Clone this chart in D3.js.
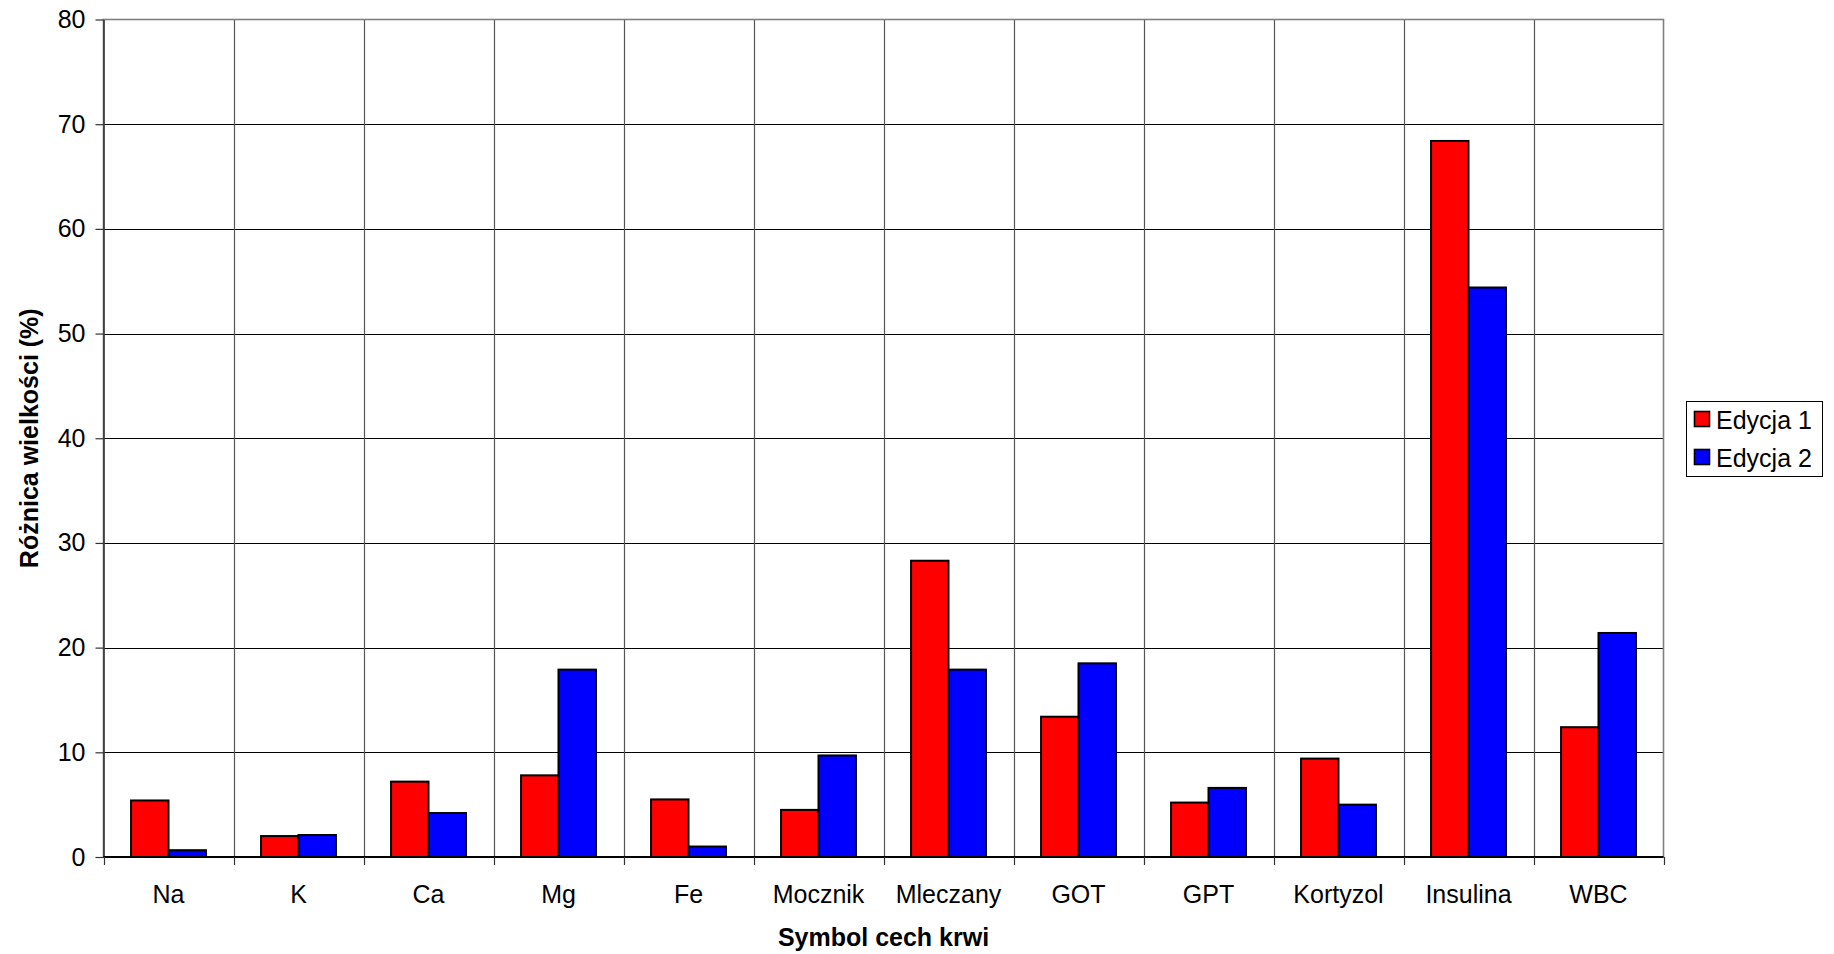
<!DOCTYPE html>
<html>
<head>
<meta charset="utf-8">
<script src="https://cdn.jsdelivr.net/npm/d3@7"></script>
<style>
  html, body { margin: 0; padding: 0; background: #fff; }
  svg { display: block; font-family: "Liberation Sans", Arial, sans-serif; }
</style>
</head>
<body>
<svg id="chart" width="1834" height="954"></svg>
<script>
// Blood parameters and percentage differences for the two editions
const categories = ["Na", "K", "Ca", "Mg", "Fe", "Mocznik", "Mleczany", "GOT", "GPT", "Kortyzol", "Insulina", "WBC"];
const seriesNames = ["Edycja 1", "Edycja 2"];
const edycja1 = [5.4, 2.0, 7.2, 7.8, 5.5, 4.5, 28.3, 13.4, 5.2, 9.4, 68.4, 12.4];
const edycja2 = [0.65, 2.1, 4.2, 17.9, 1.0, 9.7, 17.9, 18.5, 6.6, 5.0, 54.4, 21.4];
const yTicks = [0, 10, 20, 30, 40, 50, 60, 70, 80];
const colors = ["#ff0000", "#0000ff"];

const svg = d3.select("#chart");
const plotLeft = 103.5, plotRight = 1663.5, plotTop = 19.5, plotBottom = 857;

const x = d3.scaleBand().domain(categories).range([plotLeft, plotRight]).padding(0);
const bw = x.bandwidth();
const inner = d3.scaleBand().domain(seriesNames)
  .range([bw * 0.212, bw * 0.788]).padding(0);
const y = d3.scaleLinear().domain([0, 80]).range([plotBottom, plotTop]);

const rows = categories.map((c, i) => ({ cat: c, values: [edycja1[i], edycja2[i]] }));

// horizontal gridlines
svg.append("g").selectAll("line").data(yTicks.filter(t => t > 0 && t < 80)).join("line")
  .attr("x1", plotLeft).attr("x2", plotRight)
  .attr("y1", d => Math.round(y(d)) + 0.5).attr("y2", d => Math.round(y(d)) + 0.5)
  .attr("stroke", "#000").attr("stroke-width", 1);

// vertical gridlines between categories
svg.append("g").selectAll("line").data(categories.slice(1)).join("line")
  .attr("x1", d => Math.round(x(d)) + 0.5).attr("x2", d => Math.round(x(d)) + 0.5)
  .attr("y1", plotTop).attr("y2", plotBottom)
  .attr("stroke", "#555").attr("stroke-width", 1.2);

// plot border
svg.append("rect")
  .attr("x", plotLeft).attr("y", plotTop).attr("width", plotRight - plotLeft).attr("height", plotBottom - plotTop)
  .attr("fill", "none").attr("stroke", "#808080").attr("stroke-width", 1.6);

// bars
const groups = svg.append("g").selectAll("g").data(rows).join("g")
  .attr("transform", d => `translate(${x(d.cat)},0)`);
groups.selectAll("rect")
  .data(d => d.values.map((v, j) => ({ name: seriesNames[j], v, j })))
  .join("rect")
  .attr("x", d => inner(d.name))
  .attr("width", inner.bandwidth())
  .attr("y", d => y(d.v))
  .attr("height", d => y(0) - y(d.v))
  .attr("fill", d => colors[d.j])
  .attr("stroke", "#000").attr("stroke-width", 2);

// y axis
const yAxis = d3.axisLeft(y).tickValues(yTicks).tickSize(8).tickPadding(10).tickSizeOuter(0);
const gy = svg.append("g").attr("transform", `translate(${plotLeft},0)`).call(yAxis);
gy.select(".domain").attr("stroke", "#333").attr("stroke-width", 1.6);
gy.selectAll(".tick line").attr("stroke", "#333").attr("stroke-width", 1.2);
gy.selectAll("text").attr("font-size", 25).attr("fill", "#000")
  .attr("font-family", "Liberation Sans, Arial, sans-serif");

// x axis with ticks at category boundaries
const boundaries = categories.map(c => x(c)).concat([plotRight]);
const gx = svg.append("g");
gx.append("line").attr("x1", plotLeft).attr("x2", plotRight).attr("y1", plotBottom).attr("y2", plotBottom)
  .attr("stroke", "#000").attr("stroke-width", 1.8);
gx.selectAll("line.tk").data(boundaries).join("line").attr("class", "tk")
  .attr("x1", d => Math.round(d) + 0.5).attr("x2", d => Math.round(d) + 0.5)
  .attr("y1", plotBottom).attr("y2", plotBottom + 8)
  .attr("stroke", "#333").attr("stroke-width", 1.2);
gx.selectAll("text").data(categories).join("text")
  .attr("x", d => x(d) + bw / 2).attr("y", 903)
  .attr("text-anchor", "middle").attr("font-size", 25).attr("fill", "#000")
  .text(d => d);

// axis titles
svg.append("text").attr("x", (plotLeft + plotRight) / 2).attr("y", 946)
  .attr("text-anchor", "middle").attr("font-size", 25).attr("font-weight", "bold")
  .text("Symbol cech krwi");
svg.append("text")
  .attr("transform", `translate(38,${(plotTop + plotBottom) / 2}) rotate(-90)`)
  .attr("text-anchor", "middle").attr("font-size", 25).attr("font-weight", "bold")
  .text("Różnica wielkości (%)");

// legend
const lg = svg.append("g");
lg.append("rect").attr("x", 1686.5).attr("y", 401.5).attr("width", 136).attr("height", 75)
  .attr("fill", "#fff").attr("stroke", "#000").attr("stroke-width", 1);
seriesNames.forEach((name, i) => {
  const yy = 411 + i * 38;
  lg.append("rect").attr("x", 1694.5).attr("y", yy + 0.5).attr("width", 15).attr("height", 15)
    .attr("fill", colors[i]).attr("stroke", "#000").attr("stroke-width", 1.6);
  lg.append("text").attr("x", 1716).attr("y", yy + 18)
    .attr("font-size", 25).attr("fill", "#000").text(name);
});
</script>
</body>
</html>
